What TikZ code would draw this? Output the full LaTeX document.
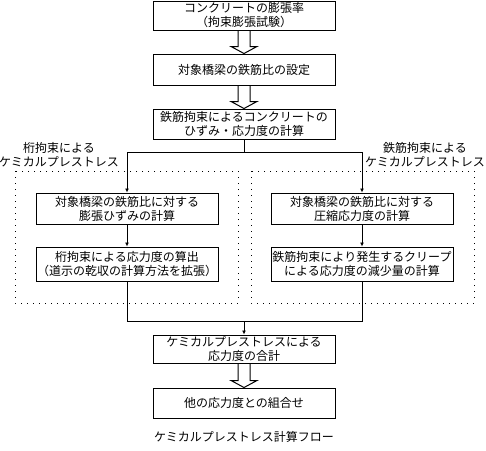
\documentclass[tikz,border=0pt]{standalone}
\usepackage{fontspec}
\newfontfamily\jpfont{Noto Sans CJK JP}
\usetikzlibrary{calc,arrows.meta}
\tikzset{
  flowbox/.style={draw,line width=1pt,minimum width=182pt,minimum height=30pt,inner sep=0pt,align=center},
  grouparea/.style={draw,line width=1pt,dash pattern=on 1pt off 5pt},
  flowline/.style={line width=1pt},
  flowarrow/.style={line width=1pt,-{Latex[length=4pt,width=4pt]}}
}
\newcommand{\hollowarrow}[2]{%
  \draw[line width=1pt,line join=miter] ($(#1.south)+(-6,0)$) -- ($(#2.north)+(-6,-7)$)
    -- ($(#2.north)+(-13,-7)$) -- (#2.north) -- ($(#2.north)+(13,-7)$)
    -- ($(#2.north)+(6,-7)$) -- ($(#1.south)+(6,0)$);}
\begin{document}
\begin{tikzpicture}[x=1pt,y=-1pt,font=\jpfont\fontsize{12}{14}\selectfont]
\useasboundingbox (0,0) rectangle (486,450);
% main column
\node[flowbox,minimum height=29pt] (rate) at (244,15.5) {コンクリートの膨張率\\（拘束膨張試験）};
\node[flowbox,minimum height=31pt] (ratio) at (244,69.5) {対象橋梁の鉄筋比の設定};
\node[flowbox] (conc) at (244,124) {鉄筋拘束によるコンクリートの\\ひずみ・応力度の計算};
\hollowarrow{rate}{ratio}
\hollowarrow{ratio}{conc}
% two branches
\draw[grouparea] (15,171) rectangle (238,303);
\draw[grouparea] (251,171) rectangle (474,303);
\node[align=center] (girdlabel) at (59,155) {桁拘束による\\ケミカルプレストレス};
\node[align=center] (rebarlabel) at (425,155) {鉄筋拘束による\\ケミカルプレストレス};
\node[flowbox,minimum height=31pt] (girdA) at (127,208.5) {対象橋梁の鉄筋比に対する\\膨張ひずみの計算};
\node[flowbox,minimum height=34pt] (girdB) at (127,264) {桁拘束による応力度の算出\\（道示の乾収の計算方法を拡張）};
\node[flowbox,minimum height=31pt] (rebarA) at (362,208.5) {対象橋梁の鉄筋比に対する\\圧縮応力度の計算};
\node[flowbox,minimum height=34pt] (rebarB) at (362,264) {鉄筋拘束により発生するクリープ\\による応力度の減少量の計算};
\coordinate (split) at (244,152);
\coordinate (merge) at (244,321);
\draw[flowline] (conc.south) -- (split);
\draw[flowarrow] (split) -| (girdA.north);
\draw[flowarrow] (split) -| (rebarA.north);
\draw[flowarrow] (girdA) -- (girdB);
\draw[flowarrow] (rebarA) -- (rebarB);
\draw[flowline] (girdB.south) |- (merge);
\draw[flowline] (rebarB.south) |- (merge);
% total
\node[flowbox,minimum height=28pt] (total) at (244,349) {ケミカルプレストレスによる\\応力度の合計};
\node[flowbox] (comb) at (244,403) {他の応力度との組合せ};
\draw[flowarrow] (merge) -- (total.north);
\hollowarrow{total}{comb}
\node (caption) at (244,437) {ケミカルプレストレス計算フロー};
\end{tikzpicture}
\end{document}
